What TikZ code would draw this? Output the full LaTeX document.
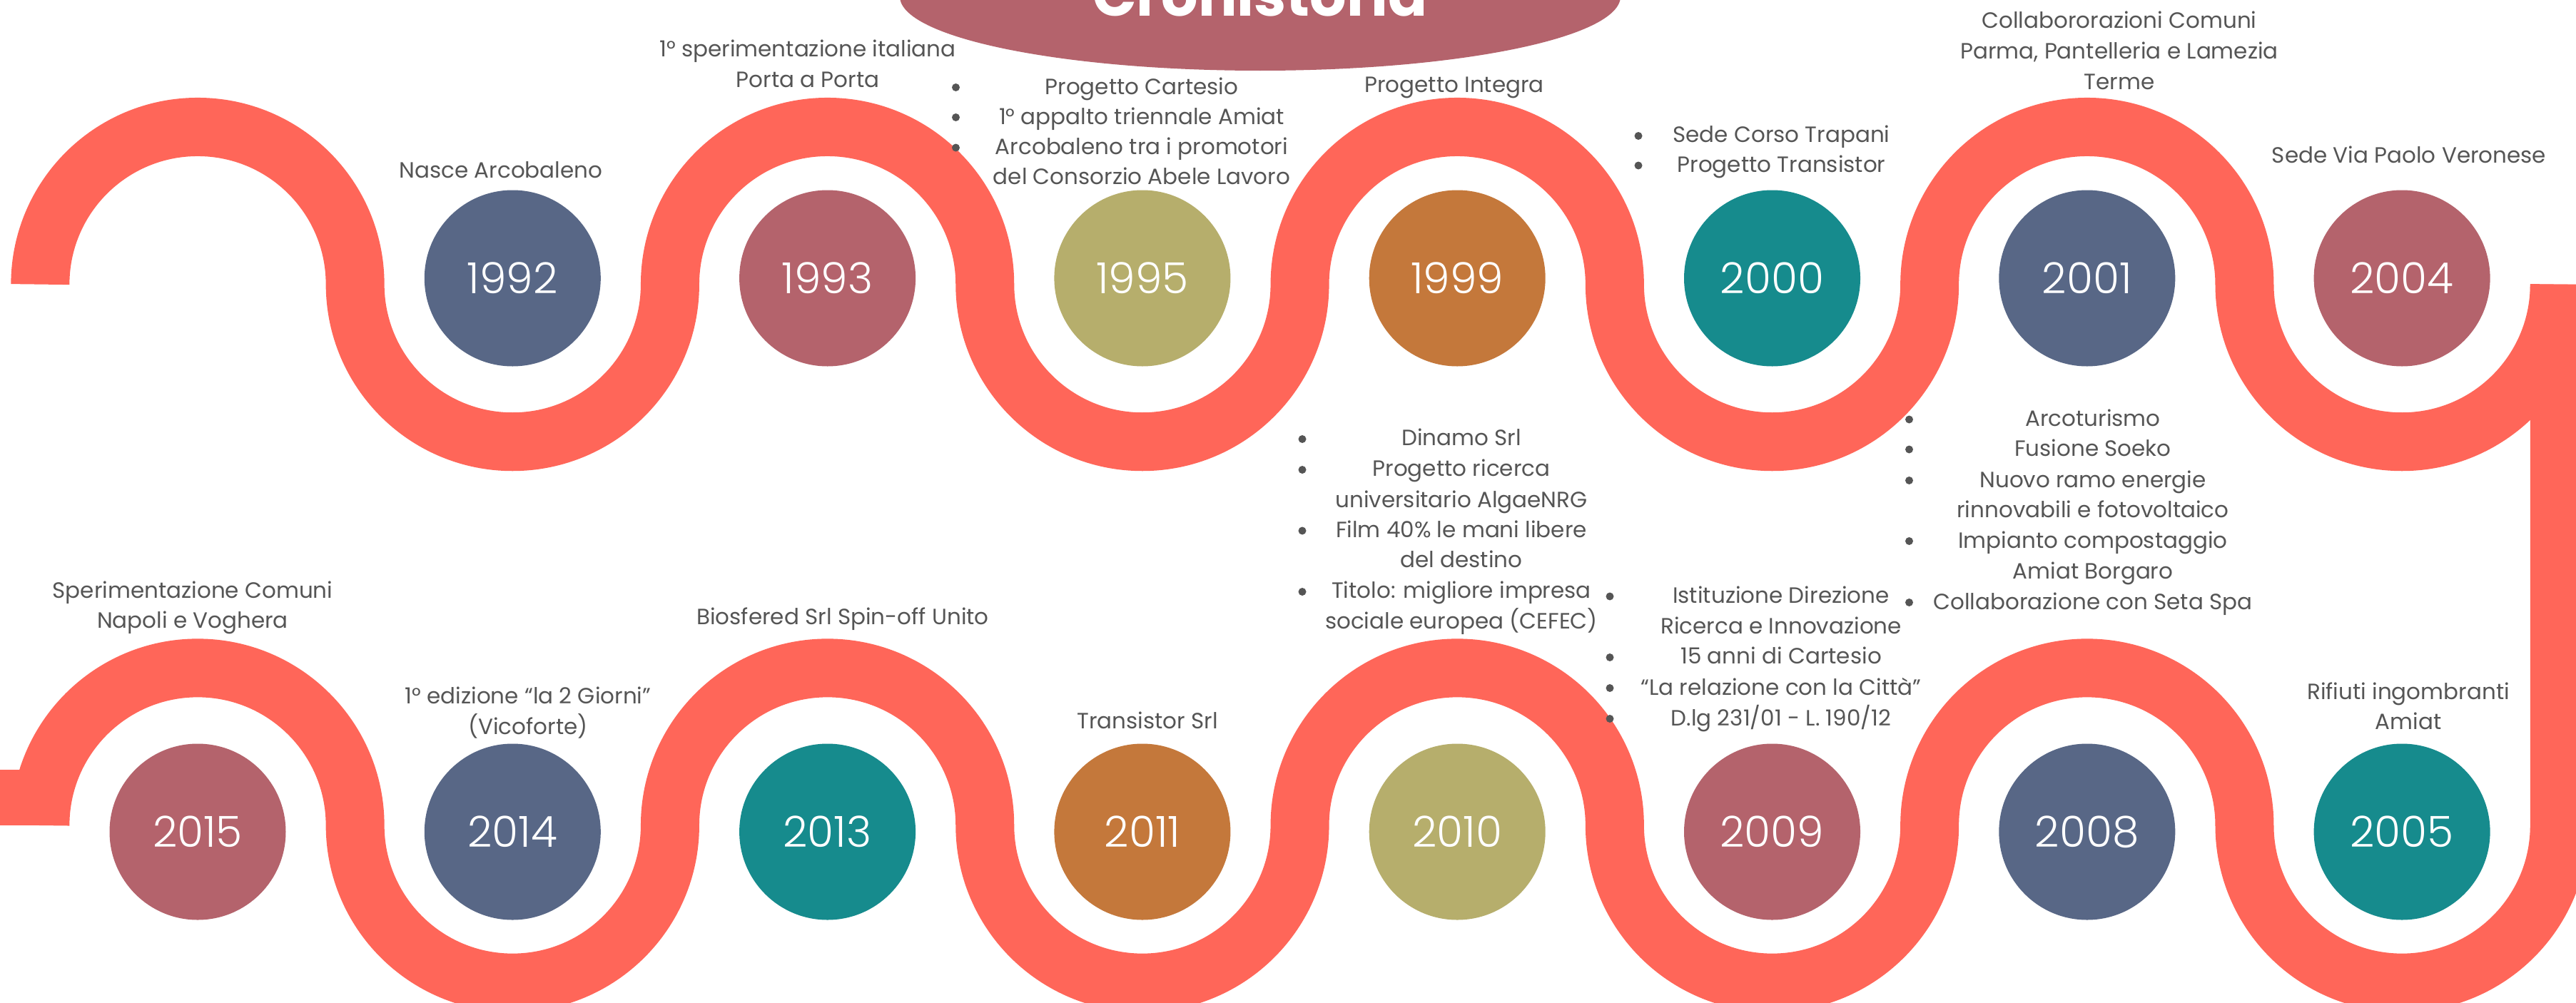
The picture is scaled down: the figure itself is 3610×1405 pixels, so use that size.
\documentclass[tikz,border=0pt]{standalone}
\usepackage{fontspec}
\setmainfont{Poppins}
\newfontfamily\yearfont{Poppins Light}
\definecolor{band}{HTML}{FF6659}
\definecolor{cslate}{HTML}{586786}
\definecolor{cmauve}{HTML}{B4636C}
\definecolor{colive}{HTML}{B6AE6C}
\definecolor{cochre}{HTML}{C4783B}
\definecolor{cteal}{HTML}{168B8D}
\definecolor{txt}{HTML}{555555}
\newcommand\mybullet[2]{\fill[txt] (#1,#2) circle (5.5);}
\begin{document}
\begin{tikzpicture}[x=1pt,y=1pt,
  wave/.style={draw=band, line width=82pt},
  yr/.style={circle, inner sep=0pt, minimum size=247pt, text=white, font=\yearfont\fontsize{60}{60}\selectfont},
  lab/.style={font=\fontsize{31}{42}\selectfont, text=txt, inner sep=0pt, anchor=base}]
\useasboundingbox (0,0) rectangle (3610,-1405);
\begin{scope}
\clip (0,0) rectangle (3610,-1405);
% title
\fill[cmauve] (1766,5) ellipse [x radius=505, y radius=104];
\node[font=\bfseries\fontsize{81}{81}\selectfont, text=white, inner sep=0pt, anchor=base] (title) at (1766,-23) {Cronistoria};
% waves
\draw[wave] (56.35,-398.6) arc(180:0:220.65) arc(180:360:220.65) arc(180:0:220.65) arc(180:360:220.65)
  arc(180:0:220.65) arc(180:360:220.65) arc(180:0:220.65) arc(180:360:220.65);
\draw[wave] (3586.75,-398.6) -- (3586.75,-1157) arc(0:-180:220.65) arc(0:180:220.65) arc(0:-180:220.65) arc(0:180:220.65)
  arc(0:-180:220.65) arc(0:180:220.65) arc(0:-180:220.65) arc(0:180:220.65);
\fill[band] (0,-1079) rectangle (60,-1157);
\end{scope}
% top row circles
\node[yr, fill=cslate] (y1992) at (718.3,-390) {1992};
\node[yr, fill=cmauve] (y1993) at (1159.6,-390) {1993};
\node[yr, fill=colive] (y1995) at (1600.9,-390) {1995};
\node[yr, fill=cochre] (y1999) at (2042.2,-390) {1999};
\node[yr, fill=cteal]  (y2000) at (2483.5,-390) {2000};
\node[yr, fill=cslate] (y2001) at (2924.8,-390) {2001};
\node[yr, fill=cmauve] (y2004) at (3366.1,-390) {2004};
% bottom row circles
\node[yr, fill=cmauve] (y2015) at (277,-1166) {2015};
\node[yr, fill=cslate] (y2014) at (718.3,-1166) {2014};
\node[yr, fill=cteal]  (y2013) at (1159.6,-1166) {2013};
\node[yr, fill=cochre] (y2011) at (1600.9,-1166) {2011};
\node[yr, fill=colive] (y2010) at (2042.2,-1166) {2010};
\node[yr, fill=cmauve] (y2009) at (2483.5,-1166) {2009};
\node[yr, fill=cslate] (y2008) at (2924.8,-1166) {2008};
\node[yr, fill=cteal]  (y2005) at (3366.1,-1166) {2005};
% top labels
\node[lab] (a1) at (702,-249) {Nasce Arcobaleno};
\node[lab] (b1) at (1132,-80) {1° sperimentazione italiana};
\node[lab] (b2) at (1132,-122) {Porta a Porta};
\node[lab] (c1) at (1600,-132) {Progetto Cartesio};
\node[lab] (c2) at (1600,-174) {1° appalto triennale Amiat};
\node[lab] (c3) at (1600,-216.5) {Arcobaleno tra i promotori};
\node[lab] (c4) at (1600,-258.5) {del Consorzio Abele Lavoro};
\mybullet{1339.5}{-122.5}\mybullet{1339.5}{-164.5}\mybullet{1339.5}{-207}
\node[lab] (d1) at (2038,-129.5) {Progetto Integra};
\node[lab] (e1) at (2496.5,-199.5) {Sede Corso Trapani};
\node[lab] (e2) at (2496.5,-241) {Progetto Transistor};
\mybullet{2296}{-190.5}\mybullet{2296}{-232}
\node[lab] (f1) at (2970,-40) {Collabororazioni Comuni};
\node[lab] (f2) at (2970,-82.6) {Parma, Pantelleria e Lamezia};
\node[lab] (f3) at (2970,-125) {Terme};
\node[lab] (g1) at (3376,-228.5) {Sede Via Paolo Veronese};
% bottom labels
\node[lab] (h1) at (270,-838.5) {Sperimentazione Comuni};
\node[lab] (h2) at (270,-880.7) {Napoli e Voghera};
\node[lab] (i1) at (740,-986) {1° edizione “la 2 Giorni”};
\node[lab] (i2) at (740,-1029) {(Vicoforte)};
\node[lab] (j1) at (1181,-875) {Biosfered Srl Spin-off Unito};
\node[lab] (k1) at (1608,-1021) {Transistor Srl};
\node[lab] (l1) at (2048,-624.7) {Dinamo Srl};
\node[lab] (l2) at (2048,-667.8) {Progetto ricerca};
\node[lab] (l3) at (2048,-711) {universitario AlgaeNRG};
\node[lab] (l4) at (2048,-753) {Film 40\% le mani libere};
\node[lab] (l5) at (2048,-795.5) {del destino};
\node[lab] (l6) at (2048,-838.7) {Titolo: migliore impresa};
\node[lab] (l7) at (2048,-881) {sociale europea (CEFEC)};
\mybullet{1825}{-615.5}\mybullet{1825}{-658.5}\mybullet{1825}{-744}\mybullet{1825}{-829.5}
\node[lab] (m1) at (2496,-845.7) {Istituzione Direzione};
\node[lab] (m2) at (2496,-888.8) {Ricerca e Innovazione};
\node[lab] (m3) at (2496,-930.8) {15 anni di Cartesio};
\node[lab] (m4) at (2496,-974) {“La relazione con la Città”};
\node[lab] (m5) at (2496,-1017) {D.lg 231/01 - L. 190/12};
\mybullet{2256}{-836}\mybullet{2256}{-921.5}\mybullet{2256}{-964.5}\mybullet{2256}{-1007.5}
\node[lab] (n1) at (2933,-597.7) {Arcoturismo};
\node[lab] (n2) at (2933,-639.8) {Fusione Soeko};
\node[lab] (n3) at (2933,-683) {Nuovo ramo energie};
\node[lab] (n4) at (2933,-725.5) {rinnovabili e fotovoltaico};
\node[lab] (n5) at (2933,-768) {Impianto compostaggio};
\node[lab] (n6) at (2933,-811) {Amiat Borgaro};
\node[lab] (n7) at (2933,-854) {Collaborazione con Seta Spa};
\mybullet{2675.5}{-588}\mybullet{2675.5}{-630}\mybullet{2675.5}{-673.5}\mybullet{2675.5}{-758.5}\mybullet{2675.5}{-844.5}
\node[lab] (o1) at (3375,-980) {Rifiuti ingombranti};
\node[lab] (o2) at (3375,-1022.5) {Amiat};
\end{tikzpicture}
\end{document}
